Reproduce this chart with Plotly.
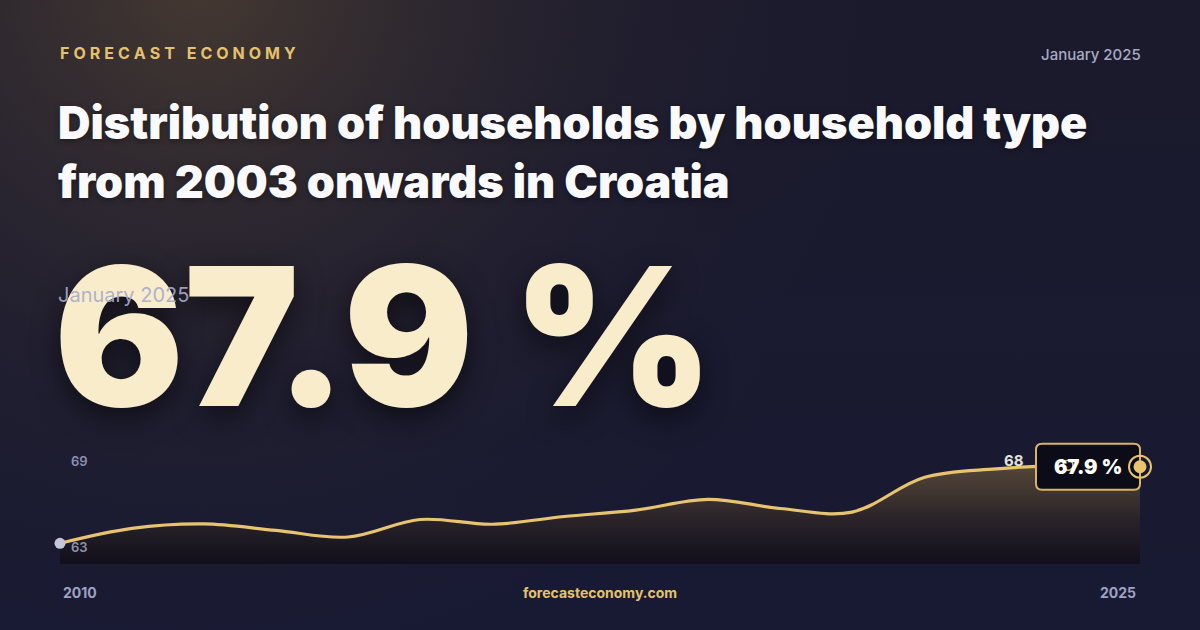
import base64
import plotly.graph_objects as go

# household share (%), January readings 2010-2025
years = list(range(2010, 2026))
share = [62.56, 63.60, 63.91, 63.46, 63.00, 64.22, 63.89, 64.43,
         64.88, 65.63, 64.99, 64.74, 67.15, 67.75, 68.00, 67.90]
axis_labels = [69, 63]

GOLD = "#e8c470"
FONT = "Inter"
HEAVY = "Inter Black, Inter ExtraBold, Inter"

# background: navy base with a warm glow in the top-left corner
svg = (
    "<svg xmlns='http://www.w3.org/2000/svg' width='1200' height='630' "
    "viewBox='0 0 1200 630' preserveAspectRatio='none'><defs>"
    "<linearGradient id='b' x1='0' y1='0' x2='0' y2='1'>"
    "<stop offset='0' stop-color='#1b1a2c'/><stop offset='1' stop-color='#181a33'/></linearGradient>"
    "<radialGradient id='g' cx='200' cy='-20' r='720' gradientUnits='userSpaceOnUse'>"
    "<stop offset='0' stop-color='#453931' stop-opacity='1'/>"
    "<stop offset='0.55' stop-color='#2a2530' stop-opacity='0.5'/>"
    "<stop offset='1' stop-color='#1b1a2e' stop-opacity='0'/></radialGradient></defs>"
    "<rect width='1200' height='630' fill='url(#b)'/>"
    "<rect width='1200' height='630' fill='url(#g)'/></svg>"
)
bg_src = "data:image/svg+xml;base64," + base64.b64encode(svg.encode()).decode()

fig = go.Figure()

# area + line
fig.add_trace(go.Scatter(
    x=years, y=share, mode="lines",
    line=dict(color=GOLD, width=3.2, shape="spline", smoothing=1.0),
    fill="tozeroy",
    fillgradient=dict(
        type="vertical", start=61.1, stop=68.0,
        colorscale=[[0, "rgba(16,14,26,0.95)"], [0.45, "rgba(42,35,40,0.95)"],
                    [1, "rgba(88,73,57,0.95)"]],
    ),
    hoverinfo="skip", showlegend=False,
))

# start dot
fig.add_trace(go.Scatter(
    x=[years[0]], y=[share[0]], mode="markers",
    marker=dict(color="#c3c6dc", size=11),
    cliponaxis=False, hoverinfo="skip", showlegend=False,
))

imax = share.index(max(share))

shapes = [
    # value tag box, anchored at the last point
    dict(type="path", xref="x", yref="y", xsizemode="pixel", ysizemode="pixel",
         xanchor=years[-1], yanchor=share[-1],
         path="M -98,-23 L -6,-23 Q 0,-23 0,-17 L 0,17 Q 0,23 -6,23 L -98,23 "
              "Q -104,23 -104,17 L -104,-17 Q -104,-23 -98,-23 Z",
         fillcolor="#0b0c18", line=dict(color="#d9b463", width=2), layer="above"),
    # max marker ring
    dict(type="circle", xref="x", yref="y", xsizemode="pixel", ysizemode="pixel",
         xanchor=years[imax], yanchor=share[imax], x0=-5, x1=5, y0=-5, y1=5,
         line=dict(color=GOLD, width=1.5), layer="above"),
    # end marker: halo ring + dot
    dict(type="circle", xref="x", yref="y", xsizemode="pixel", ysizemode="pixel",
         xanchor=years[-1], yanchor=share[-1], x0=-11, x1=11, y0=-11, y1=11,
         line=dict(color=GOLD, width=2), layer="above"),
    dict(type="circle", xref="x", yref="y", xsizemode="pixel", ysizemode="pixel",
         xanchor=years[-1], yanchor=share[-1], x0=-6.5, x1=6.5, y0=-6.5, y1=6.5,
         fillcolor=GOLD, line=dict(width=0), layer="above"),
]

sp = "\u2005"
brand = (sp.join("FORECAST") + " " + sp + sp + sp.join("ECONOMY"))

annotations = [
    dict(text=brand, x=58, y=53, xanchor="left", yanchor="middle",
         font=dict(family=FONT, size=16, color="#e6c16d", weight=700)),
    dict(text="January 2025", x=1143, y=54, xanchor="right", yanchor="middle",
         font=dict(family=FONT, size=15, color="#a8abc6", weight=500)),
    dict(text="Distribution of households by household type<br>from 2003 onwards in Croatia",
         x=56, y=152, xanchor="left", yanchor="middle", align="left",
         font=dict(family=HEAVY, size=45, color="#fafafc", weight=800,
                   shadow="0 2px 6px rgba(0,0,0,0.35)")),
    dict(text=f"{share[-1]:.1f} %", x=52, y=336, xanchor="left", yanchor="middle",
         font=dict(family=HEAVY, size=193, color="#f9eccb", weight=900,
                   shadow="0 10px 28px rgba(0,0,0,0.55)")),
    dict(text="January 2025", x=56, y=295, xanchor="left", yanchor="middle",
         font=dict(family=FONT, size=20, color="rgba(168,171,204,0.92)", weight=400)),
    dict(text="forecasteconomy.com", x=600, y=592, xanchor="center", yanchor="middle",
         font=dict(family=FONT, size=14, color="#e6c16d", weight=700)),
]
for a in annotations:
    a.update(xref="paper", yref="paper", showarrow=False)
    a["x"] = a["x"] / 1200
    a["y"] = 1 - a["y"] / 630

# axis labels tied to the data axes
for v in axis_labels:
    annotations.append(dict(
        text=str(v), x=years[0], y=v, xref="x", yref="y", xanchor="left", yanchor="middle",
        xshift=9, yshift=-10, showarrow=False,
        font=dict(family=FONT, size=13, color="#8d91b1", weight=600)))
annotations += [
    dict(text=str(years[0]), x=years[0], y=1 - 592 / 630, xref="x", yref="paper",
         xanchor="left", yanchor="middle", xshift=1, showarrow=False,
         font=dict(family=FONT, size=14, color="#9ea2c3", weight=700)),
    dict(text=str(years[-1]), x=years[-1], y=1 - 592 / 630, xref="x", yref="paper",
         xanchor="right", yanchor="middle", xshift=-2, showarrow=False,
         font=dict(family=FONT, size=14, color="#9ea2c3", weight=700)),
    dict(text=f"{share[imax]:.0f}", x=years[imax], y=share[imax], xref="x", yref="y",
         xanchor="right", yanchor="middle", xshift=-42, yshift=5, showarrow=False,
         font=dict(family=FONT, size=15, color="#e4e1dc", weight=700)),
    dict(text=f"{share[-1]:.1f} %", x=years[-1], y=share[-1], xref="x", yref="y",
         xanchor="center", yanchor="middle", xshift=-52, showarrow=False,
         font=dict(family=HEAVY, size=20, color="#ffffff", weight=800)),
]

# plot area runs 60px..1140px for 2010..2025; a little extra room on the right
# so the end marker is not clipped
px_per_year = 1080 / 15
pad_px = 24
fig.update_layout(
    width=1200, height=630,
    margin=dict(l=0, r=0, t=0, b=0),
    paper_bgcolor="#181a2f", plot_bgcolor="rgba(0,0,0,0)",
    xaxis=dict(domain=[60 / 1200, (1140 + pad_px) / 1200],
               range=[years[0], years[-1] + pad_px / px_per_year],
               visible=False, fixedrange=True),
    yaxis=dict(domain=[66 / 630, 190 / 630], range=[61.116, 69.767], visible=False, fixedrange=True),
    images=[dict(source=bg_src, xref="paper", yref="paper", x=0, y=1, sizex=1, sizey=1,
                 sizing="stretch", xanchor="left", yanchor="top", layer="below")],
    shapes=shapes,
    annotations=annotations,
    showlegend=False,
)

fig.write_html("out.html", config={"displayModeBar": False},
               post_script="document.body.style.margin='0';document.body.style.background='#181a2f';")
